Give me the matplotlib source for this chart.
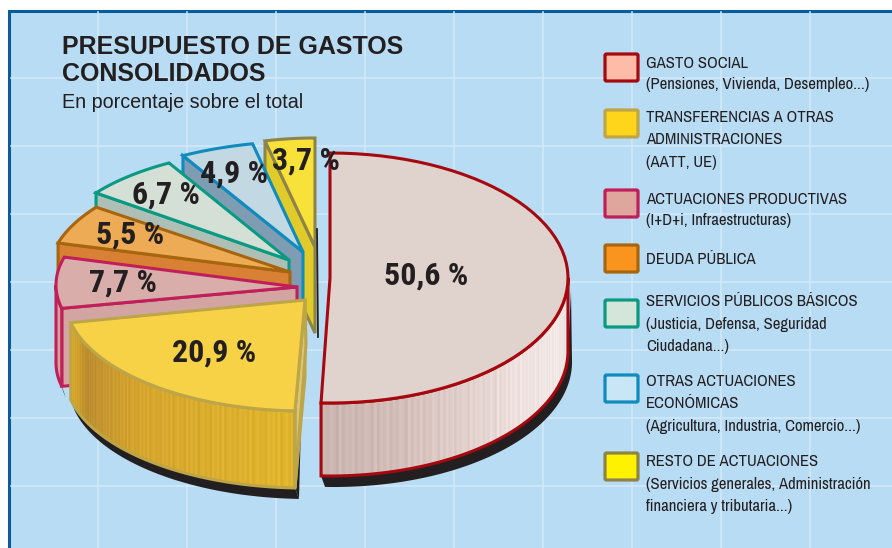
import numpy as np
import matplotlib
matplotlib.use("Agg")
import matplotlib.pyplot as plt
from matplotlib.collections import PolyCollection
from matplotlib.colors import LinearSegmentedColormap
from matplotlib.patches import Polygon, Rectangle, FancyBboxPatch

# data
values = [50.6, 20.9, 7.7, 5.5, 6.7, 4.9, 3.7]
value_labels = ["50,6 %", "20,9 %", "7,7 %", "5,5 %", "6,7 %", "4,9 %", "3,7 %"]
title_lines = ["PRESUPUESTO DE GASTOS", "CONSOLIDADOS"]
subtitle = "En porcentaje sobre el total"
legend_texts = [
    ["GASTO SOCIAL", "(Pensiones, Vivienda, Desempleo...)"],
    ["TRANSFERENCIAS A OTRAS", "ADMINISTRACIONES", "(AATT, UE)"],
    ["ACTUACIONES PRODUCTIVAS", "(I+D+i, Infraestructuras)"],
    ["DEUDA PÚBLICA"],
    ["SERVICIOS PÚBLICOS BÁSICOS", "(Justicia, Defensa, Seguridad", "Ciudadana...)"],
    ["OTRAS ACTUACIONES", "ECONÓMICAS", "(Agricultura, Industria, Comercio...)"],
    ["RESTO DE ACTUACIONES", "(Servicios generales, Administración", "financiera y tributaria...)"],
]

# styles
NARROW = ["Archivo Narrow", "Liberation Sans"]
NARROW_BOLD = ["Roboto Condensed", "Asap Condensed", "Liberation Sans"]
BG = "#b8dcf4"
GRID = "#d3e9f9"
top_colors = ["#e0d2cd", "#f7d246", "#d9aeaa", "#eeab55", "#d4dfd6", "#c2d8e3", "#f8e23a"]
wall_colors = ["#d8c4bf", "#e0b52c", "#d2a5a3", "#d88134", "#aebfb5", "#7e9db3", "#e0cb2a"]
edge_colors = ["#a5080f", "#bda548", "#c01f59", "#a8650f", "#0a9a83", "#0f8bbd", "#8f8448"]
swatch_colors = ["#fdbba8", "#ffd51c", "#dfa69e", "#f9951f", "#d3e6d9", "#c8e6f6", "#fff200"]
# arc centre x, y, radius x, radius y, apex x, apex y, depth
geometry = [
    (330, 278, 238, 125, 330, 278, 73),
    (304, 298, 239, 113, 305, 300, 77),
    (296, 285, 240, 107, 297, 287, 78),
    (311, 273, 262, 115, 290, 272, 78),
    (292, 253, 239, 105, 289, 260, 78),
    (309, 244, 245, 103, 303, 252, 78),
    (315, 245, 217, 107, 315, 247, 86),
]
label_xy = [(426, 276), (214, 353), (123, 283), (130, 235), (166, 195), (234, 174), (306, 161)]
swatch_boxes = [(605, 54), (605, 110), (605, 190), (605, 245), (605, 300), (605, 375), (605, 453)]
legend_y = [[63, 85], [118, 140, 162], [199, 221], [260], [302, 324, 346], [382, 404, 426], [461, 484, 506]]
SHADOW = (4, 11)
LW = 2.2

fig = plt.figure(figsize=(8.92, 5.48), dpi=100, facecolor="white")
ax = fig.add_axes([0, 0, 1, 1])
ax.set_xlim(0, 892)
ax.set_ylim(548, 0)
ax.axis("off")

# panel
ax.add_patch(Rectangle((9, 11), 900, 560, fc=BG, ec="#0b5a9a", lw=2.2, zorder=0))
for x in range(98, 892, 89):
    ax.plot([x, x], [12, 548], color=GRID, lw=1.1, zorder=0.5)
for y in range(78, 548, 68):
    ax.plot([11, 892], [y, y], color=GRID, lw=1.1, zorder=0.5)


def arc(geo, a0, a1, n=60):
    cx, cy, rx, ry = geo[:4]
    t = np.radians(np.linspace(a0, a1, n))
    return np.column_stack([cx + rx * np.sin(t), cy - ry * np.cos(t)])


def wall_strips(top, depth, cmap, z, base):
    # solid base first, antialiased seams between the quads let things show through
    ax.add_patch(Polygon(np.vstack([top, (top + [0, depth])[::-1]]), closed=True, fc=base, ec="none", zorder=z))
    # narrow quads so the curved wall gets the printed vertical streaks
    shades = [0, 0.02, -0.012, 0.03, -0.02, 0.008, 0.022, -0.006, 0.012, -0.016, 0.026]
    quads, cols = [], []
    for i in range(len(top) - 1):
        p, q = top[i], top[i + 1]
        quads.append([p, q, q + [0, depth], p + [0, depth]])
        f = i / (len(top) - 2)
        c = np.array(cmap(f)[:3]) + shades[(i // 2) % len(shades)]
        cols.append(np.clip(c, 0, 1))
    ax.add_collection(PolyCollection(quads, facecolors=cols, edgecolors=cols, linewidths=0.2, zorder=z))


red_ramp = LinearSegmentedColormap.from_list("r", ["#e6dcda", "#f4ecea", "#f0e4e2", "#e2d0cc", "#d2bcb8", "#c9b3ae"])
yellow_ramp = LinearSegmentedColormap.from_list(
    "y", [(0, "#dcaa2a"), (0.08, "#cfa02c"), (0.16, "#b98a30"), (0.45, "#d4a32e"), (1, "#e0b52c")])
pink_ramp = LinearSegmentedColormap.from_list("p", ["#d2a5a3", "#d2a5a3"])

# angles come from the values, clockwise from the top
edges = np.concatenate([[0], np.cumsum(values) * 3.6])

# back to front: small yellow first, big red last
for i in [6, 5, 4, 3, 2, 1, 0]:
    geo = geometry[i]
    a0, a1 = edges[i], edges[i + 1]
    apex = np.array(geo[4:6], dtype=float)
    depth = geo[6]
    z = 2 + (6 - i) if i else 10
    top_arc = arc(geo, a0, a1)
    off = np.array([0, depth])

    # wall on the cut side that looks to the viewer, and the curved wall
    front_from = a0
    front_to = min(a1, 270)
    if i == 0:
        front_from, front_to = 90, a1

    if i != 0:
        corner = top_arc[0]
        cut = [corner, apex, apex + off, corner + off]
        ax.add_patch(Polygon(cut, closed=True, fc=wall_colors[i], ec=edge_colors[i], lw=LW, joinstyle="miter", zorder=z))

    if front_to > front_from:
        front = arc(geo, front_from, front_to, n=240)
        bottom = front + off
        sh = bottom + SHADOW
        if i == 0:
            sh = np.vstack([bottom[0] + [3, -60], sh])
        ax.add_patch(Polygon(np.vstack([sh, bottom[::-1]]), closed=True, fc="#231f20", ec="none", zorder=z - 0.5))
        if i == 1:
            ax.add_patch(Polygon([front[0] + SHADOW + off, front[0] + SHADOW + off + [3, -110], front[0] + off],
                                 closed=True, fc="#231f20", ec="none", zorder=z - 0.5))
        if i == 0:
            wall_strips(front, depth, red_ramp, z, wall_colors[i])
        elif i == 1:
            wall_strips(front[::-1], depth, yellow_ramp, z, wall_colors[i])
            # thin cut face between apex and the near corner
            ax.add_patch(Polygon([apex, apex + [1, 45], front[0] + off, front[0]], closed=True,
                                 fc="#d9c676", ec=edge_colors[i], lw=LW, joinstyle="miter", zorder=z + 0.1))
        else:
            wall_strips(front, depth, pink_ramp, z, wall_colors[i])
        outline = np.vstack([front, bottom[::-1]])
        ax.add_patch(Polygon(outline, closed=True, fc="none", ec=edge_colors[i], lw=LW, joinstyle="miter", zorder=z + 0.2))

    face = np.vstack([apex, top_arc])
    ax.add_patch(Polygon(face, closed=True, fc=top_colors[i], ec=edge_colors[i], lw=LW, joinstyle="miter", zorder=z + 0.3))

# shadow strip to the right of the small yellow wedge
a = geometry[6]
ax.plot([a[4] + 2, a[4] + 3], [a[5] - 18, a[5] + a[6] + 4], color="#231f20", lw=1.3, zorder=2.5)

for (x, y), s in zip(label_xy, value_labels):
    ax.text(x, y, s, family=NARROW_BOLD, fontweight="bold", fontsize=23, color="#231f20",
            ha="center", va="center", zorder=20)

# title
ax.text(62, 47, title_lines[0], family="Liberation Sans", fontweight="bold", fontsize=18, color="#231f20", va="center")
ax.text(62, 74, title_lines[1], family="Liberation Sans", fontweight="bold", fontsize=18, color="#231f20", va="center")
ax.text(62, 103, subtitle, family="Liberation Sans", fontsize=14.2, color="#231f20", va="center")

# legend
for (x, y), fc, ec, lines, ys in zip(swatch_boxes, swatch_colors, edge_colors, legend_texts, legend_y):
    ax.add_patch(FancyBboxPatch((x, y), 33, 27, boxstyle="round,pad=0,rounding_size=1.5",
                                fc=fc, ec=ec, lw=2.3, zorder=3))
    for s, yy in zip(lines, ys):
        ax.text(646, yy, s, family=NARROW, fontsize=12, color="#231f20", va="center", zorder=3)

fig.savefig("out.png", dpi=100)
